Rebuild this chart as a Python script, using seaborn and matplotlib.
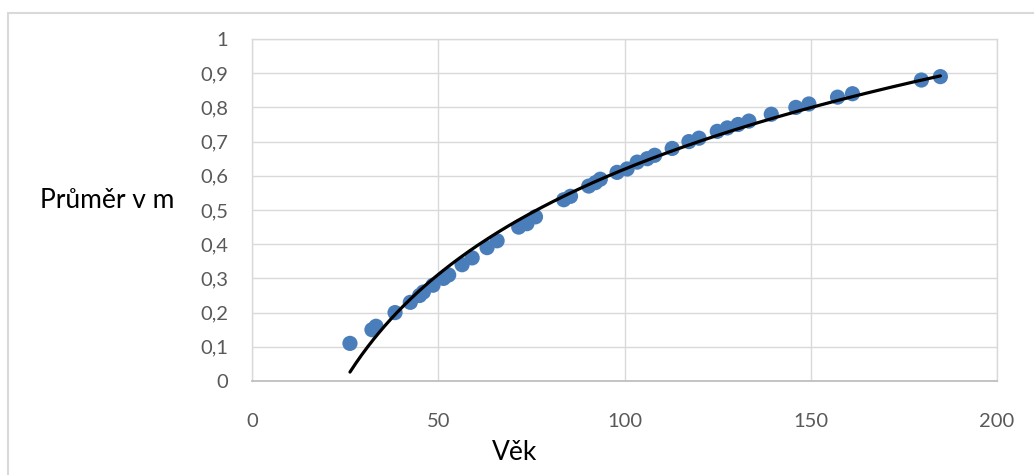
import numpy as np
import pandas as pd
import matplotlib
matplotlib.use("Agg")
import matplotlib.pyplot as plt
from matplotlib.ticker import FuncFormatter
from matplotlib.patches import Rectangle
import seaborn as sns

# Data
vek = [26.3, 32.2, 33.3, 38.4, 42.5, 45.0, 46.0, 48.6, 51.4, 52.8, 56.4, 59.1,
       63.1, 65.8, 71.6, 73.8, 76.1, 83.7, 85.5, 90.4, 92.2, 93.5, 98.0, 100.7,
       103.4, 106.1, 108.1, 112.8, 117.3, 120.0, 124.9, 127.6, 130.5, 133.4,
       139.4, 146.0, 149.5, 157.2, 161.2, 179.7, 184.8]
prumer = [0.11, 0.15, 0.16, 0.20, 0.23, 0.25, 0.26, 0.28, 0.30, 0.31, 0.34, 0.36,
          0.39, 0.41, 0.45, 0.46, 0.48, 0.53, 0.54, 0.57, 0.58, 0.59, 0.61, 0.62,
          0.64, 0.65, 0.66, 0.68, 0.70, 0.71, 0.73, 0.74, 0.75, 0.76,
          0.78, 0.80, 0.81, 0.83, 0.84, 0.88, 0.89]
x_ticks = [0, 50, 100, 150, 200]
y_ticks = [0, 0.1, 0.2, 0.3, 0.4, 0.5, 0.6, 0.7, 0.8, 0.9, 1.0]
x_label = "Věk"
y_label = "Průměr v m"

df = pd.DataFrame({"Věk": vek, "Průměr": prumer})

# logarithmic trendline (like Excel): y = a*ln(x) + b
a, b = np.polyfit(np.log(df["Věk"]), df["Průměr"], 1)
xt = np.linspace(min(vek), max(vek), 300)
trend = pd.DataFrame({"x": xt, "y": a * np.log(xt) + b})

sns.set_theme(style="white")
plt.rcParams["font.family"] = ["Lato", "DejaVu Sans"]

W, H = 1034, 475
fig = plt.figure(figsize=(W / 100, H / 100), dpi=100)
ax = fig.add_axes([252 / W, 1 - 381 / H, (997 - 252) / W, (381 - 39) / H])

grid_c = "#d9d9d9"
ax.set_axisbelow(True)
ax.grid(True, color=grid_c, lw=1.0)

sns.scatterplot(data=df, x="Věk", y="Průměr", ax=ax, color="#4a7ebb",
                s=120, edgecolor="none", zorder=3, clip_on=False)
sns.lineplot(data=trend, x="x", y="y", ax=ax, color="black", lw=2.3,
             zorder=4, estimator=None, sort=False)

ax.set_xlim(0, 200)
ax.set_ylim(0, 1)
ax.set_xticks(x_ticks)
ax.set_yticks(y_ticks)
fmt = FuncFormatter(lambda v, p: f"{v:g}".replace(".", ","))
ax.xaxis.set_major_formatter(fmt)
ax.yaxis.set_major_formatter(fmt)
ax.tick_params(axis="both", length=0, labelsize=14.5, labelcolor="#595959")
ax.tick_params(axis="x", pad=23)
ax.tick_params(axis="y", pad=17)
ax.set_xlabel("")
ax.set_ylabel("")

for side in ["left", "top", "right"]:
    ax.spines[side].set_color(grid_c)
    ax.spines[side].set_linewidth(1.0)
ax.spines["bottom"].set_color("#bfbfbf")
ax.spines["bottom"].set_linewidth(1.3)

fig.text(107 / W, 1 - 200 / H, y_label, ha="center", va="center",
         fontsize=19, color="black")
fig.text(515 / W, 1 - 452 / H, x_label, ha="center", va="center",
         fontsize=19, color="black")

fig.patches.append(Rectangle((8 / W, -0.1), 1.2, 1 - 13 / H + 0.1,
                             transform=fig.transFigure, fill=False,
                             edgecolor=grid_c, lw=1.5))

fig.savefig("out.png", dpi=100, facecolor="white")
